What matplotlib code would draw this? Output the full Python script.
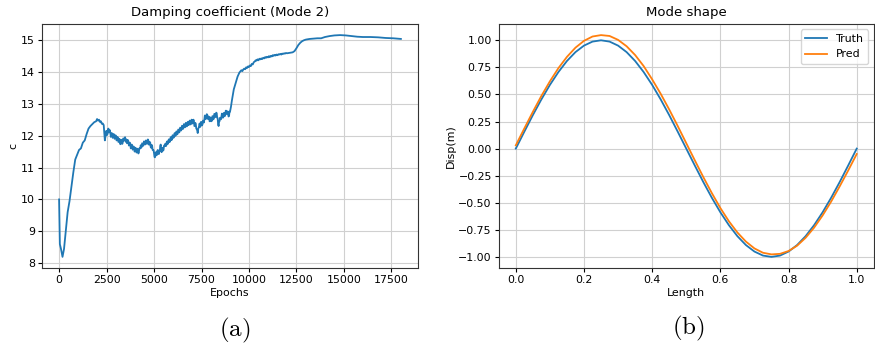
import numpy as np
import matplotlib
matplotlib.use("Agg")
import matplotlib.pyplot as plt

# damping coefficient history in three pieces
# early part (irregular epochs)
ep_early = [0, 40, 100, 180, 260, 350, 450, 550, 650, 750, 850, 950, 1050, 1150, 1250, 1350, 1450, 1550, 1650,
            1750, 1850, 1950, 2000, 2050, 2100, 2150, 2200, 2250, 2300, 2350, 2380, 2410]
c_early = [10.0, 8.6, 8.45, 8.2, 8.45, 9.0, 9.6, 9.95, 10.4, 10.85, 11.25, 11.4, 11.55, 11.6, 11.78, 11.85, 12.05,
           12.22, 12.3, 12.36, 12.42, 12.45, 12.52, 12.47, 12.5, 12.43, 12.45, 12.37, 12.38, 12.33, 12.1, 11.85]
# noisy middle part, every 25 epochs from 2450
c_mid = [12.0, 12.14, 12.15, 12.02, 12.05, 12.2, 12.22, 12.1, 12.12, 12.17,
         12.08, 11.96, 11.98, 12.08, 12.05, 11.93, 11.95, 12.05, 12.02, 11.9,
         11.92, 12.01, 11.97, 11.85, 11.87, 11.96, 11.92, 11.8, 11.82, 11.9,
         11.85, 11.73, 11.76, 11.87, 11.84, 11.74, 11.78, 11.91, 11.9, 11.84,
         11.92, 11.95, 11.85, 11.8, 11.88, 11.76, 11.78, 11.86, 11.82, 11.69,
         11.7, 11.78, 11.73, 11.6, 11.63, 11.72, 11.68, 11.56, 11.58, 11.66,
         11.62, 11.5, 11.52, 11.62, 11.58, 11.47, 11.5, 11.59, 11.55, 11.44,
         11.48, 11.6, 11.6, 11.6, 11.7, 11.62, 11.65, 11.76, 11.75, 11.68,
         11.72, 11.82, 11.8, 11.72, 11.76, 11.85, 11.82, 11.74, 11.78, 11.88,
         11.85, 11.72, 11.72, 11.8, 11.78, 11.64, 11.62, 11.71, 11.68, 11.55,
         11.55, 11.54, 11.45, 11.33, 11.32, 11.46, 11.48, 11.38, 11.4, 11.53,
         11.55, 11.44, 11.42, 11.52, 11.5, 11.66, 11.72, 11.55, 11.48, 11.6,
         11.62, 11.53, 11.55, 11.68, 11.7, 11.68, 11.75, 11.67, 11.7, 11.81,
         11.82, 11.74, 11.78, 11.88, 11.88, 11.8, 11.84, 11.95, 11.95, 11.86,
         11.9, 12.01, 12.0, 11.93, 11.96, 12.07, 12.08, 11.99, 12.02, 12.13,
         12.12, 12.04, 12.08, 12.19, 12.18, 12.1, 12.14, 12.25, 12.24, 12.16,
         12.2, 12.31, 12.3, 12.21, 12.25, 12.36, 12.35, 12.26, 12.28, 12.4,
         12.38, 12.29, 12.32, 12.43, 12.42, 12.33, 12.36, 12.47, 12.45, 12.35,
         12.38, 12.5, 12.48, 12.38, 12.42, 12.5, 12.45, 12.3, 12.3, 12.4,
         12.35, 12.22, 12.2, 12.16, 12.08, 12.2, 12.25, 12.3, 12.38, 12.27,
         12.3, 12.43, 12.42, 12.32, 12.35, 12.47, 12.45, 12.41, 12.5, 12.63,
         12.62, 12.52, 12.55, 12.67, 12.66, 12.53, 12.52, 12.6, 12.58, 12.45,
         12.45, 12.57, 12.55, 12.45, 12.48, 12.61, 12.6, 12.51, 12.55, 12.68,
         12.68, 12.58, 12.6, 12.72, 12.7, 12.56, 12.55, 12.36, 12.3, 12.44,
         12.45, 12.56, 12.55, 12.51, 12.6, 12.69, 12.65, 12.56, 12.58, 12.71,
         12.7, 12.61, 12.65, 12.78, 12.78, 12.68, 12.72, 12.76, 12.68, 12.6,
         12.62, 12.75, 12.75]
# late part
ep_late = [9050, 9100, 9200, 9300, 9400, 9500, 9600, 9650, 9700, 9750, 9800, 9850, 9900, 9950, 10000, 10050, 10100,
           10150, 10200, 10250, 10300, 10350, 10400, 10450, 10500, 10550, 10600, 10650, 10700, 10750, 10800, 10850,
           10900, 10950, 11000, 11050, 11100, 11150, 11200, 11250, 11300, 11350, 11400, 11450, 11500, 11550, 11600,
           11650, 11700, 11750, 11800, 11850, 11900, 11950, 12000, 12100, 12200, 12300, 12400, 12500, 12600, 12700,
           12800, 12900, 13000, 13200, 13400, 13600, 13800, 14000, 14250, 14500, 14800, 15100, 15400, 15700, 16000,
           16400, 16800, 17200, 17600, 18000]
c_late = [12.9, 13.1, 13.45, 13.65, 13.85, 13.98, 14.05, 14.02, 14.07, 14.1, 14.08, 14.14, 14.12, 14.17, 14.15, 14.2,
          14.18, 14.25, 14.23, 14.3, 14.32, 14.36, 14.35, 14.39, 14.36, 14.41, 14.39, 14.42, 14.4, 14.44, 14.42, 14.46,
          14.44, 14.47, 14.45, 14.49, 14.46, 14.5, 14.48, 14.52, 14.5, 14.53, 14.51, 14.54, 14.52, 14.55, 14.54, 14.56,
          14.54, 14.57, 14.56, 14.58, 14.57, 14.59, 14.58, 14.59, 14.6, 14.61, 14.65, 14.74, 14.84, 14.91, 14.96,
          14.99, 15.01, 15.03, 15.04, 15.05, 15.05, 15.09, 15.12, 15.14, 15.15, 15.14, 15.12, 15.1, 15.09, 15.09,
          15.08, 15.06, 15.05, 15.03]

# mode shape
length = [0.0, 0.025, 0.05, 0.075, 0.1, 0.125, 0.15, 0.175, 0.2, 0.225, 0.25, 0.275, 0.3, 0.325, 0.35, 0.375, 0.4,
          0.425, 0.45, 0.475, 0.5, 0.525, 0.55, 0.575, 0.6, 0.625, 0.65, 0.675, 0.7, 0.725, 0.75, 0.775, 0.8, 0.825,
          0.85, 0.875, 0.9, 0.925, 0.95, 0.975, 1.0]
truth = [0.0, 0.156, 0.309, 0.454, 0.588, 0.707, 0.809, 0.891, 0.951, 0.988, 1.0, 0.988, 0.951, 0.891, 0.809, 0.707,
         0.588, 0.454, 0.309, 0.156, 0.0, -0.156, -0.309, -0.454, -0.588, -0.707, -0.809, -0.891, -0.951, -0.988,
         -1.0, -0.988, -0.951, -0.891, -0.809, -0.707, -0.588, -0.454, -0.309, -0.156, 0.0]
pred = [0.030, 0.186, 0.339, 0.486, 0.621, 0.743, 0.847, 0.932, 0.995, 1.035, 1.048, 1.040, 1.004, 0.945, 0.864,
        0.762, 0.639, 0.506, 0.361, 0.208, 0.050, -0.108, -0.263, -0.411, -0.549, -0.671, -0.775, -0.859, -0.922,
        -0.962, -0.977, -0.972, -0.946, -0.897, -0.824, -0.730, -0.617, -0.489, -0.349, -0.202, -0.050]

ep_mid = list(2450 + 25 * np.arange(len(c_mid)))
epochs = ep_early + ep_mid + ep_late
c_vals = c_early + c_mid + c_late

plt.rcParams['font.size'] = 7.9
plt.rcParams['mathtext.fontset'] = 'cm'

fig = plt.figure(figsize=(8.75, 3.48), dpi=100)

ax1 = fig.add_axes([0.048, 0.230, 0.4297, 0.701])
ax1.plot(epochs, c_vals, color='#1f77b4', lw=1.3)
ax1.set_title('Damping coefficient (Mode 2)', fontsize=9.5)
ax1.set_xlabel('Epochs', labelpad=2)
ax1.set_ylabel('c', labelpad=2)
ax1.set_xticks([0, 2500, 5000, 7500, 10000, 12500, 15000, 17500])
ax1.grid(True, color='#d0d0d0', lw=0.8)

ax2 = fig.add_axes([0.570, 0.230, 0.4286, 0.701])
ax2.plot(length, truth, color='#1f77b4', lw=1.3, label='Truth')
ax2.plot(length, pred, color='#ff7f0e', lw=1.3, label='Pred')
ax2.set_title('Mode shape', fontsize=9.5)
ax2.set_xlabel('Length', labelpad=2)
ax2.set_ylabel('Disp(m)', labelpad=2)
ax2.set_yticks([-1.0, -0.75, -0.5, -0.25, 0.0, 0.25, 0.5, 0.75, 1.0])
ax2.grid(True, color='#d0d0d0', lw=0.8)
ax2.legend(loc='upper right')

for ax in (ax1, ax2):
    ax.tick_params(length=3, pad=2)
    for s in ax.spines.values():
        s.set_color('#333333')

fig.text(235 / 875, 1 - 330 / 348, r'$\mathrm{(a)}$', fontsize=18, ha='center', va='center')
fig.text(688 / 875, 1 - 328 / 348, r'$\mathrm{(b)}$', fontsize=18, ha='center', va='center')

fig.savefig('out.png', dpi=100)
